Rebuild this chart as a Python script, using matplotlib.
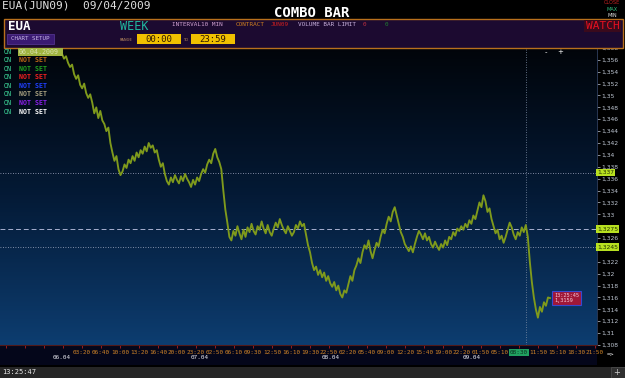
import numpy as np
import matplotlib
matplotlib.use("Agg")
import matplotlib.pyplot as plt
from matplotlib.patches import Rectangle
from matplotlib.colors import LinearSegmentedColormap

W, H = 625, 378
MONO = "DejaVu Sans Mono"

# price series (EUA JUN09, 06.04 - 09.04.2009)
prices = [
    1.3570, 1.3562, 1.3566, 1.3555, 1.3548, 1.3552, 1.3536, 1.3528, 1.3534, 1.3518,
    1.3512, 1.3520, 1.3504, 1.3496, 1.3502, 1.3488, 1.3470, 1.3480, 1.3462, 1.3474,
    1.3458, 1.3452, 1.3440, 1.3446, 1.3420, 1.3404, 1.3390, 1.3398, 1.3376, 1.3366,
    1.3372, 1.3384, 1.3378, 1.3392, 1.3386, 1.3398, 1.3390, 1.3404, 1.3396, 1.3408,
    1.3402, 1.3414, 1.3406, 1.3420, 1.3412, 1.3416, 1.3404, 1.3408, 1.3392, 1.3380,
    1.3386, 1.3368, 1.3356,
    1.3350, 1.3362, 1.3354, 1.3366, 1.3358, 1.3352, 1.3364, 1.3356, 1.3368, 1.3360,
    1.3354, 1.3346, 1.3358, 1.3350, 1.3362, 1.3356, 1.3368, 1.3376, 1.3370, 1.3384,
    1.3392, 1.3386, 1.3402, 1.3410, 1.3396,
    1.3388, 1.3376, 1.3340, 1.3308, 1.3286, 1.3262, 1.3256, 1.3272, 1.3264, 1.3280,
    1.3268, 1.3258, 1.3274, 1.3262, 1.3278, 1.3270, 1.3284, 1.3272, 1.3266, 1.3280,
    1.3274, 1.3288, 1.3276, 1.3268, 1.3282, 1.3270, 1.3264, 1.3276, 1.3286, 1.3278,
    1.3292, 1.3282, 1.3274, 1.3268, 1.3280, 1.3272, 1.3264, 1.3270, 1.3282, 1.3276,
    1.3288, 1.3280, 1.3284,
    1.3266, 1.3248, 1.3236, 1.3218, 1.3206, 1.3212, 1.3198, 1.3206, 1.3194, 1.3202,
    1.3188, 1.3196, 1.3184, 1.3178, 1.3186, 1.3172, 1.3180, 1.3166, 1.3160, 1.3172,
    1.3168,
    1.3182, 1.3196, 1.3188, 1.3206, 1.3214, 1.3226, 1.3218, 1.3236, 1.3248, 1.3242,
    1.3256, 1.3238, 1.3226, 1.3240, 1.3252, 1.3246, 1.3262, 1.3274, 1.3268, 1.3284,
    1.3296, 1.3288, 1.3304, 1.3312, 1.3298,
    1.3284, 1.3270, 1.3262, 1.3250, 1.3244, 1.3238, 1.3246, 1.3236, 1.3250, 1.3262,
    1.3272, 1.3266, 1.3258, 1.3268, 1.3256, 1.3262, 1.3250, 1.3244, 1.3254, 1.3246,
    1.3240, 1.3250, 1.3244, 1.3256, 1.3248, 1.3262, 1.3258, 1.3270, 1.3264, 1.3276,
    1.3272, 1.3280, 1.3274, 1.3284, 1.3278,
    1.3290, 1.3284, 1.3298, 1.3292, 1.3306, 1.3320, 1.3312, 1.3332, 1.3322, 1.3304,
    1.3310, 1.3292, 1.3280, 1.3268, 1.3274, 1.3258, 1.3264, 1.3252, 1.3262, 1.3274,
    1.3286, 1.3278, 1.3266, 1.3258, 1.3270, 1.3264, 1.3278, 1.3270, 1.3282,
    1.3262, 1.3220, 1.3186, 1.3160, 1.3140, 1.3126, 1.3144, 1.3136, 1.3152, 1.3146,
    1.3160, 1.3159,
]
cursor_bar = 230

time_labels = ["03:20", "06:40", "10:00", "13:20", "16:40", "20:00", "23:20",
               "02:50", "06:10", "09:30", "12:50", "16:10", "19:30", "22:50",
               "02:20", "05:40", "09:00", "12:20", "15:40", "19:00", "22:20",
               "01:50", "05:10", "08:30", "11:50", "15:10", "18:30", "21:50"]
date_labels = ["06.04", "07.04", "08.04", "09.04"]
date_slots = [2.95, 10.2, 17.1, 24.5]

levels_dotted = [1.337, 1.3245]
level_dashed = 1.3275
level_labels = ["1,337", "1,3275", "1,3245"]

legend_colors = ["#c06818", "#20a020", "#f02020", "#2040ff", "#a8a080", "#8a20e8", "#ffffff"]


def fx(x):
    return x / W


def fy(y):
    return 1 - y / H


fig = plt.figure(figsize=(W / 100, H / 100), dpi=100, facecolor="black")

# main plot area
ax = fig.add_axes([0, fy(345), fx(597), (345 - 45) / H])
n = len(prices)
ppb = 488 / (n - 1)            # pixels per bar
x = np.arange(n)
ax.set_xlim(-62 / ppb, (597 - 62) / ppb)
ax.set_ylim(1.3082, 1.3585)

cmap = LinearSegmentedColormap.from_list("bg", ["#010409", "#041a36", "#0d3d70"])
grad = np.linspace(0, 1, 256).reshape(-1, 1)
ax.imshow(grad, cmap=cmap, aspect="auto", extent=[0, 1, 0, 1],
          transform=ax.transAxes, zorder=0)

ax.plot(x, prices, color="#7f9a1c", lw=1.35, zorder=3)

for lv in levels_dotted:
    ax.axhline(lv, color="#a8b0c8", lw=0.6, ls=(0, (1, 2)), zorder=2)
ax.axhline(level_dashed, color="#a8b0d0", lw=0.7, ls=(0, (5, 3)), zorder=2)
ax.axvline(cursor_bar, color="#8090a8", lw=0.6, ls=(0, (1, 2)), zorder=2)

# right price axis (labels hidden behind the level tags are left blank)
ax.yaxis.tick_right()
yt = np.arange(1.308, 1.3585, 0.002)
ylabs = []
for v in yt:
    lab = f"{v:.3f}".rstrip("0").replace(".", ",")
    if round(v, 3) in (1.328, 1.324):
        lab = ""
    ylabs.append(lab)
ax.set_yticks(yt)
ax.set_yticklabels(ylabs, fontsize=4.3, color="#c0c8d4")
ax.tick_params(axis="y", direction="out", length=2, width=0.5, colors="#c0c8d4", pad=1)

# time axis
tick_step = 19 / ppb
tick0 = (6 - 62) / ppb
ticks = tick0 + tick_step * np.arange(32)
ax.set_xticks(ticks)
ax.set_xticklabels([""] * 4 + time_labels, fontsize=4.3, color="#d08428", family=MONO)
ax.tick_params(axis="x", direction="out", length=2.5, width=0.6, colors="#b02020",
               labelcolor="#d08428", pad=1)
hl = ax.get_xticklabels()[4 + time_labels.index("08:30")]
hl.set_bbox(dict(boxstyle="square,pad=0.15", fc="#20a060", ec="none"))
hl.set_color("#0a3020")

for s in ["top", "left"]:
    ax.spines[s].set_visible(False)
ax.spines["bottom"].set_color("#501818")
ax.spines["bottom"].set_linewidth(0.8)
ax.spines["right"].set_color("#304060")
ax.spines["right"].set_linewidth(0.6)

for d, s in zip(date_labels, date_slots):
    ax.text(tick0 + tick_step * s, -0.043, d, transform=ax.get_xaxis_transform(),
            ha="center", va="center", fontsize=4.3, color="#e8e8f0", family=MONO)

for lv, lab in zip([1.337, 1.3275, 1.3245], level_labels):
    ax.text(1.0, lv, lab, transform=ax.get_yaxis_transform(), ha="left", va="center",
            fontsize=4.3, color="#203000", zorder=6,
            bbox=dict(boxstyle="square,pad=0.2", fc="#b8e020", ec="none"))

# last price tag
ax.text(n + 1, prices[-1], "13:25:45\n1,3159", fontsize=3.8, color="#f4c8d8",
        ha="left", va="center", linespacing=1.1, family=MONO, zorder=6,
        bbox=dict(boxstyle="square,pad=0.3", fc="#a01838", ec="#3848d0", lw=0.8))
ax.text(0.912, 0.985, "-", transform=ax.transAxes, color="white", fontsize=5, va="top")
ax.text(0.933, 0.985, "+", transform=ax.transAxes, color="white", fontsize=5, va="top")

# x band and status bar
fig.add_artist(Rectangle((0, fy(365)), fx(597), (365 - 345.5) / H, transform=fig.transFigure,
                         fc="#04061a", ec="none", zorder=-1))
fig.text(fx(607), fy(355), "=>", color="white", fontsize=4.5, va="center", family=MONO)
fig.add_artist(Rectangle((0, 0), 1, 11 / H, transform=fig.transFigure,
                         fc="#262626", ec="none"))
fig.add_artist(Rectangle((fx(611), 0), fx(14), 11 / H, transform=fig.transFigure,
                         fc="#303030", ec="#505050", lw=0.5))
fig.text(fx(617), fy(372.5), "+", color="#d0d0d0", fontsize=6, ha="center", va="center")
fig.text(fx(2), fy(372.5), "13:25:47", color="#e8e8e8", fontsize=5, va="center", family=MONO)

# top title line
fig.text(fx(2), fy(6), "EUA(JUN09)  09/04/2009", color="#e0e0e0", fontsize=8,
         va="center", family=MONO)
fig.text(fx(312), fy(13), "COMBO BAR", color="white", fontsize=10, fontweight="bold",
         ha="center", va="center", family=MONO)
fig.text(fx(612), fy(3), "CLOSE", color="#c02020", fontsize=3.6, ha="center", va="center")
fig.text(fx(612), fy(9.5), "MAX", color="#30c080", fontsize=3.6, ha="center", va="center")
fig.text(fx(612), fy(15.5), "MIN", color="#e0e0e0", fontsize=3.6, ha="center", va="center")

# header panel
fig.add_artist(Rectangle((fx(4), fy(48)), fx(619), 29 / H, transform=fig.transFigure,
                         fc="#1c0a30", ec="#b8701c", lw=1))
fig.text(fx(8), fy(27), "EUA", color="white", fontsize=9, fontweight="bold",
         va="center", family=MONO)
fig.add_artist(Rectangle((fx(7), fy(44)), fx(47), 10 / H, transform=fig.transFigure,
                         fc="#3a1a72", ec="#5a3a98", lw=0.5))
fig.text(fx(30.5), fy(39), "CHART SETUP", color="#c8b8e8", fontsize=4.2, ha="center",
         va="center", family=MONO)
fig.text(fx(120), fy(27), "WEEK", color="#20b8a0", fontsize=8.5, va="center", family=MONO)
fig.text(fx(120), fy(40), "RANGE", color="#c09060", fontsize=2.6, va="center")
fig.text(fx(183), fy(40), "TO", color="#c09060", fontsize=2.6, va="center")
for x0, t in [(137, "00:00"), (191, "23:59")]:
    fig.add_artist(Rectangle((fx(x0), fy(44)), fx(44), 10 / H, transform=fig.transFigure,
                             fc="#f0c000", ec="none"))
    fig.text(fx(x0 + 22), fy(39), t, color="#301800", fontsize=6.5, ha="center",
             va="center", family=MONO)
fig.text(fx(172), fy(24.5), "INTERVAL10 MIN", color="#d0a0d0", fontsize=4.3,
         va="center", family=MONO)
fig.text(fx(236), fy(24.5), "CONTRACT", color="#d08020", fontsize=4.3, va="center", family=MONO)
fig.text(fx(271), fy(24.5), "JUN09", color="#d02020", fontsize=4.3, va="center", family=MONO)
fig.text(fx(298), fy(24.5), "VOLUME BAR LIMIT", color="#c8b0dc", fontsize=4.3,
         va="center", family=MONO)
fig.text(fx(363), fy(24.5), "0", color="#c03040", fontsize=4.3, va="center", family=MONO)
fig.text(fx(385), fy(24.5), "0", color="#208030", fontsize=4.3, va="center", family=MONO)
fig.add_artist(Rectangle((fx(584), fy(32)), fx(37), 12 / H, transform=fig.transFigure,
                         fc="#3a0a1c", ec="none"))
fig.text(fx(602.5), fy(26), "WATCH", color="#e81020", fontsize=8, ha="center",
         va="center", family=MONO)

# left study list
rows = [51.7, 60, 68.7, 77.3, 85.7, 94.3, 103, 111.7]
for i, yy in enumerate(rows):
    fig.text(fx(4), fy(yy), "ON", color="#40e0a0", fontsize=4.8, va="center", family=MONO)
    if i == 0:
        fig.add_artist(Rectangle((fx(18), fy(yy + 4)), fx(45), 8 / H,
                                 transform=fig.transFigure, fc="#a0b440", ec="none"))
        fig.text(fx(19), fy(yy), "06.04.2009", color="#d8e0b0", fontsize=4.8,
                 va="center", family=MONO)
    else:
        fig.text(fx(19), fy(yy), "NOT SET", color=legend_colors[i - 1], fontsize=4.8,
                 va="center", family=MONO, fontweight="bold")

fig.savefig("out.png", dpi=100, facecolor="black")
